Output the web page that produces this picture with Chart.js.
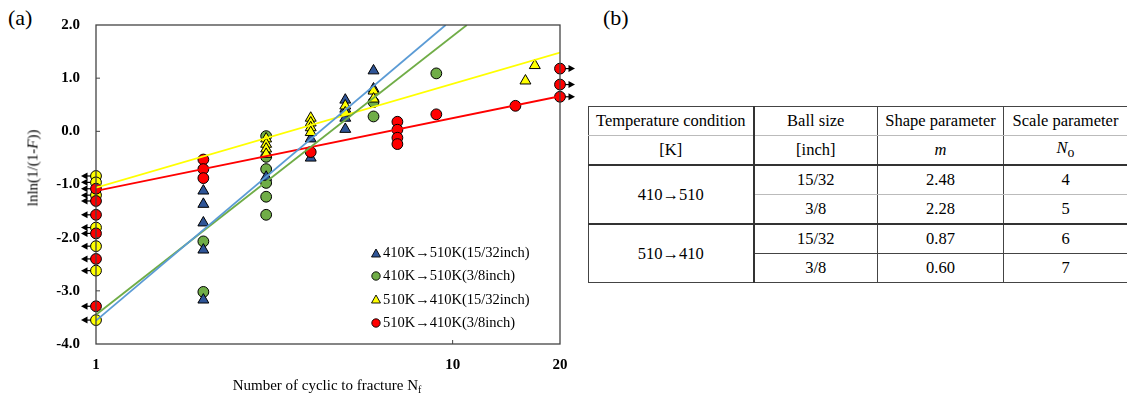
<!DOCTYPE html>
<html lang="en">
<head>
<meta charset="utf-8">
<title>Weibull plot</title>
<script src="https://cdn.jsdelivr.net/npm/chart.js@4.4.1/dist/chart.umd.min.js"></script>
<style>
    html, body { margin: 0; padding: 0; background: #fff; }
    body { width: 1127px; height: 398px; position: relative; overflow: hidden; font-family: 'Liberation Serif', 'Times New Roman', serif; color: #000; }
    #panelA { position: absolute; left: 0; top: 0; width: 580px; height: 398px; }
    .tag { position: absolute; top: 5px; font-size: 22px; }
    #yTitle { position: absolute; left: 33px; top: 168px; transform: translate(-50%, -50%) rotate(-90deg); font-size: 15px; white-space: nowrap; }
    #xTitle { position: absolute; left: 327px; top: 386px; transform: translate(-50%, -50%); font-size: 15px; white-space: nowrap; }
    #xTitle sub { font-size: 10px; vertical-align: -3px; }
    #legend { position: absolute; left: 371px; top: 241px; font-size: 14.5px; line-height: 23.3px; }
    #legend div { display: flex; align-items: center; white-space: nowrap; }
    #legend svg { margin-right: 2px; }
    table { position: absolute; left: 588px; top: 106px; width: 539px; border-collapse: collapse; table-layout: fixed; font-size: 16.5px; }
    td { padding: 0; text-align: center; border: 1px solid #444; height: 28px; }
    tr.h1 td { border-bottom: 1px solid #bbb; }
    tr.h2 td { border-bottom: 2px solid #333; }
    td.cond { border-right: 2px solid #333; }
    tr.g1a td { border-bottom: 1px solid #bbb; }
    tr.g1b td { border-bottom: 2px solid #333; }
</style>
</head>
<body>
<div class="tag" style="left:8px">(a)</div>
<div class="tag" style="left:603px">(b)</div>
<div id="panelA"><canvas id="chart1" width="580" height="398"></canvas></div>
<div id="yTitle">lnln(1/(1-<i>F</i>))</div>
<div id="xTitle">Number of cyclic to fracture N<sub>f</sub></div>
<div id="legend"></div>
<table>
    <colgroup><col style="width:165px"><col style="width:124px"><col style="width:126px"><col style="width:124px"></colgroup>
    <tr class="h1"><td class="cond">Temperature condition</td><td>Ball size</td><td>Shape parameter</td><td>Scale parameter</td></tr>
    <tr class="h2"><td class="cond">[K]</td><td>[inch]</td><td><i>m</i></td><td><i>N</i><sub>o</sub></td></tr>
    <tr class="g1a"><td class="cond" rowspan="2" style="border-bottom:2px solid #333">410→510</td><td>15/32</td><td>2.48</td><td>4</td></tr>
    <tr class="g1b"><td>3/8</td><td>2.28</td><td>5</td></tr>
    <tr><td class="cond" rowspan="2">510→410</td><td>15/32</td><td>0.87</td><td>6</td></tr>
    <tr><td>3/8</td><td>0.60</td><td>7</td></tr>
</table>
<script>
// Datos: número de ciclos (N) y lnln(1/(1-F)) para cada serie.
const N_AZUL = [2, 2, 2, 2, 2, 3, 4, 4, 5, 5, 5, 5, 6, 6];
const F_AZUL = [-1.12, -1.37, -1.72, -2.23, -3.17, -0.86, -0.14, -0.50, 0.59, 0.42, 0.25, 0.04, 1.14, 0.80];
const N_VERDE = [2, 2, 3, 3, 3, 3, 3, 3, 6, 6, 9];
const F_VERDE = [-2.07, -3.02, -0.09, -0.48, -0.71, -0.97, -1.23, -1.57, 0.55, 0.28, 1.09];
const N_AMARILLO = [1, 1, 1, 1, 1, 1, 1, 3, 3, 3, 3, 4, 4, 4, 4, 5, 5, 6, 6, 16, 17];
const F_AMARILLO = [-0.84, -0.96, -1.20, -1.81, -2.16, -2.62, -3.55, -0.14, -0.24, -0.33, -0.43, 0.25, 0.16, 0.07, -0.02, 0.48, 0.35, 0.76, 0.61, 0.95, 1.24];
const N_ROJO = [1, 1, 1, 1, 1, 1, 2, 2, 2, 4, 7, 7, 7, 7, 9, 15, 20, 20, 20];
const F_ROJO = [-1.08, -1.31, -1.57, -1.92, -2.40, -3.29, -0.53, -0.71, -0.88, -0.39, 0.18, 0.03, -0.12, -0.24, 0.32, 0.48, 1.18, 0.88, 0.65];

// Extremos de las rectas de ajuste.
const RECTA_AZUL_N = [1, 9.56];
const RECTA_AZUL_F = [-3.56, 2.0];
const RECTA_VERDE_N = [1, 10.96];
const RECTA_VERDE_F = [-3.45, 2.0];
const RECTA_AMARILLA_N = [1, 20];
const RECTA_AMARILLA_F = [-1.06, 1.48];
const RECTA_ROJA_N = [1, 20];
const RECTA_ROJA_F = [-1.12, 0.66];

// Etiquetas de la leyenda y de los ejes.
const ETIQUETAS = ['410K→510K(15/32inch)', '410K→510K(3/8inch)', '510K→410K(15/32inch)', '510K→410K(3/8inch)'];
const TICKS_X = [1, 10, 20];
const TICKS_Y = [-4, -3, -2, -1, 0, 1, 2];
// Suspendidos: a la izquierda en N=1 y a la derecha en N=20.
const N_SUSP_IZQ = 1;
const N_SUSP_DER = 20;

const FUENTE = "'Liberation Serif', 'Times New Roman', serif";
const COLORES_MARCA = ['#2f5597', '#70ad47', '#ffff00', '#ff0000'];
const COLORES_RECTA = ['#5b9bd5', '#70ad47', '#ffff00', '#ff0000'];
const ESTILOS = ['triangle', 'circle', 'triangle', 'circle'];

// Función para convertir dos arreglos en puntos {x, y}.
const puntos = (n, f) => n.map((x, i) => ({ x: x, y: f[i] }));

// Plugin para dibujar las flechas de los datos suspendidos.
const flechas = {
    id: 'flechas',
    beforeDatasetsDraw(chart) {
        const ctx = chart.ctx;
        ctx.save();
        ctx.fillStyle = '#000';
        ctx.strokeStyle = '#000';
        ctx.lineWidth = 1.2;
        chart.data.datasets.forEach((ds, i) => {
            if (!ds.suspendidos) return;
            const meta = chart.getDatasetMeta(i);
            ds.data.forEach((p, j) => {
                let dir = 0;
                if (p.x === N_SUSP_IZQ) dir = -1;
                if (p.x === N_SUSP_DER) dir = 1;
                if (!dir) return;
                const el = meta.data[j];
                const px = el.x, py = el.y;
                ctx.beginPath();
                ctx.moveTo(px + dir * 4, py);
                ctx.lineTo(px + dir * 9, py);
                ctx.stroke();
                ctx.beginPath();
                ctx.moveTo(px + dir * 15, py);
                ctx.lineTo(px + dir * 8.5, py - 3.5);
                ctx.lineTo(px + dir * 8.5, py + 3.5);
                ctx.closePath();
                ctx.fill();
            });
        });
        ctx.restore();
    }
};

// Plugin para dibujar el marco del área y las marcas interiores de los ejes.
const marco = {
    id: 'marco',
    afterDraw(chart) {
        const { ctx, chartArea: a, scales } = chart;
        ctx.save();
        ctx.strokeStyle = '#444';
        ctx.lineWidth = 1.3;
        ctx.strokeRect(a.left, a.top, a.right - a.left, a.bottom - a.top);
        ctx.lineWidth = 1;
        TICKS_Y.slice(1, -1).forEach(v => {
            const y = scales.y.getPixelForValue(v);
            ctx.beginPath();
            ctx.moveTo(a.left, y);
            ctx.lineTo(a.left + 4, y);
            ctx.stroke();
        });
        TICKS_X.slice(1, -1).forEach(v => {
            const x = scales.x.getPixelForValue(v);
            ctx.beginPath();
            ctx.moveTo(x, a.bottom);
            ctx.lineTo(x, a.bottom - 4);
            ctx.stroke();
        });
        ctx.restore();
    }
};

// Se construye la leyenda en HTML dentro del área del gráfico.
const crearLeyenda = () => {
    const cont = document.getElementById('legend');
    ETIQUETAS.forEach((txt, i) => {
        const fila = document.createElement('div');
        const marca = ESTILOS[i] === 'triangle'
            ? `<polygon points="5,1 9.5,9 0.5,9" fill="${COLORES_MARCA[i]}" stroke="#000" stroke-width="0.9"/>`
            : `<circle cx="5" cy="5" r="4.2" fill="${COLORES_MARCA[i]}" stroke="#000" stroke-width="0.9"/>`;
        fila.innerHTML = `<svg width="10" height="10" viewBox="0 0 10 10">${marca}</svg><span>${txt}</span>`;
        cont.appendChild(fila);
    });
};

document.addEventListener('DOMContentLoaded', () => {
    crearLeyenda();
    graficoWeibull();
});

// Función para generar el gráfico de Weibull.
const graficoWeibull = () => {
    const ctx = document.getElementById('chart1').getContext('2d');
    const datosMarcas = [
        puntos(N_AZUL, F_AZUL),
        puntos(N_VERDE, F_VERDE),
        puntos(N_AMARILLO, F_AMARILLO),
        puntos(N_ROJO, F_ROJO)
    ];
    const datosRectas = [
        puntos(RECTA_AZUL_N, RECTA_AZUL_F),
        puntos(RECTA_VERDE_N, RECTA_VERDE_F),
        puntos(RECTA_AMARILLA_N, RECTA_AMARILLA_F),
        puntos(RECTA_ROJA_N, RECTA_ROJA_F)
    ];
    // Orden de dibujo de las marcas: verde abajo, rojo arriba.
    const ORDEN = [3, 4, 2, 1];
    const datasets = [];
    datosRectas.forEach((d, i) => {
        datasets.push({
            type: 'line',
            data: d,
            borderColor: COLORES_RECTA[i],
            borderWidth: 1.8,
            pointRadius: 0,
            fill: false,
            order: 0
        });
    });
    datosMarcas.forEach((d, i) => {
        datasets.push({
            type: 'scatter',
            label: ETIQUETAS[i],
            data: d,
            suspendidos: i >= 2,
            backgroundColor: COLORES_MARCA[i],
            borderColor: '#000',
            borderWidth: 1,
            // Los suspendidos se dibujan como círculos.
            pointStyle: c => (c.raw && (c.raw.x === N_SUSP_IZQ || c.raw.x === N_SUSP_DER)) ? 'circle' : ESTILOS[i],
            pointRadius: c => (ESTILOS[i] === 'triangle' && !(c.raw && c.raw.x === N_SUSP_IZQ)) ? 6.3 : 5.4,
            clip: false,
            order: ORDEN[i]
        });
    });
    new Chart(ctx, {
        data: { datasets: datasets },
        plugins: [flechas, marco],
        options: {
            responsive: false,
            animation: false,
            devicePixelRatio: 1,
            layout: { padding: { top: 14, right: 20, bottom: 0, left: 0 } },
            plugins: {
                legend: { display: false },
                tooltip: { enabled: false }
            },
            scales: {
                x: {
                    type: 'logarithmic',
                    min: 1,
                    max: 20,
                    afterBuildTicks: s => { s.ticks = TICKS_X.map(v => ({ value: v })); },
                    afterFit: s => { s.height = 54; },
                    grid: { display: false, drawTicks: false },
                    border: { display: false },
                    ticks: {
                        autoSkip: false,
                        maxRotation: 0,
                        padding: 12,
                        color: '#000',
                        font: { family: FUENTE, size: 15, weight: 'bold' },
                        callback: v => String(v)
                    }
                },
                y: {
                    type: 'linear',
                    min: -4,
                    max: 2,
                    afterBuildTicks: s => { s.ticks = TICKS_Y.map(v => ({ value: v })); },
                    afterFit: s => { s.width = 96; },
                    grid: { display: false, drawTicks: false },
                    border: { display: false },
                    ticks: {
                        padding: 16,
                        color: '#000',
                        font: { family: FUENTE, size: 15, weight: 'bold' },
                        callback: v => Number(v).toFixed(1)
                    }
                }
            }
        }
    });
};
</script>
</body>
</html>
